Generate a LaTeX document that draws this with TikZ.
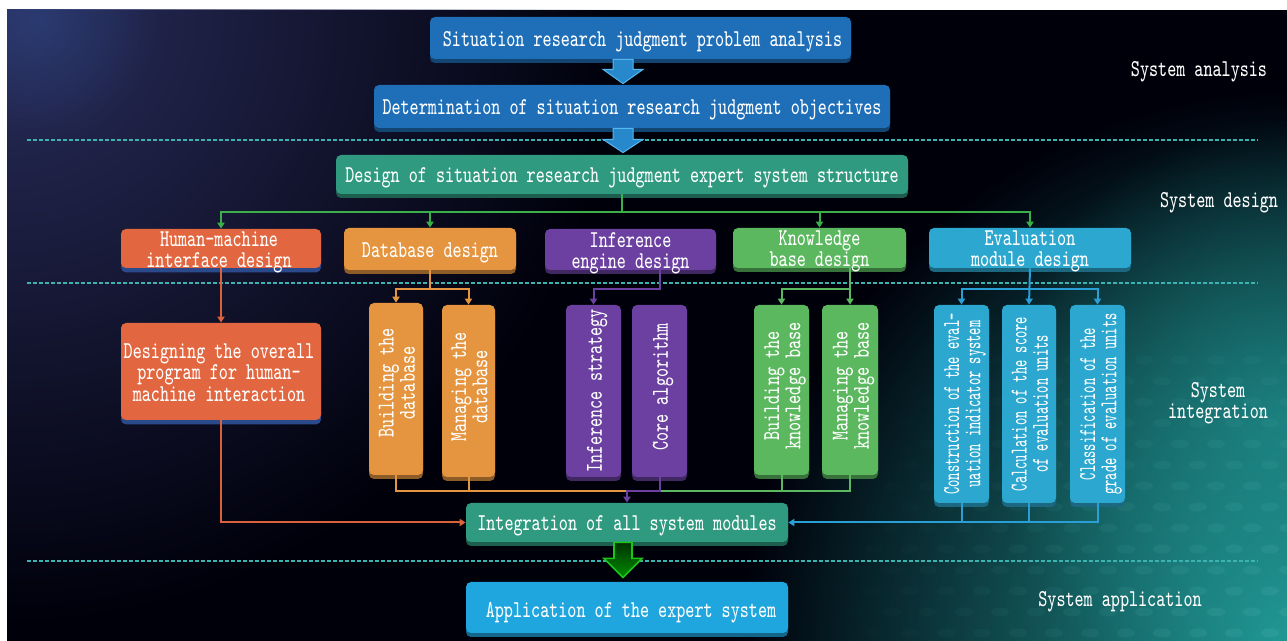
\documentclass[tikz,border=0pt]{standalone}
\usepackage{graphicx}
\usetikzlibrary{fit,calc,arrows.meta,shadows,fadings}
\definecolor{cblue}{HTML}{1F6FB8}
\definecolor{cteal}{HTML}{2F9A7F}
\definecolor{chm}{HTML}{E2663F}
\definecolor{cdb}{HTML}{E5953F}
\definecolor{cif}{HTML}{6B40A0}
\definecolor{ckb}{HTML}{5BB85F}
\definecolor{cev}{HTML}{2CA7CF}
\definecolor{capp}{HTML}{1FA6DE}
\definecolor{cnavy}{HTML}{2B4A8C}
\definecolor{cgl}{HTML}{3BAF4A}
\definecolor{chmc}{HTML}{D9613C}
\definecolor{cevc}{HTML}{2A9FD6}
\definecolor{cdash}{HTML}{3DB3B0}
\definecolor{bgnavy}{HTML}{2A2E5C}
\definecolor{bgblue}{HTML}{2E4C8E}
\definecolor{bgteal}{HTML}{229C98}
\definecolor{dotc}{HTML}{6FD0C8}
\definecolor{arrfill}{HTML}{2788CC}
\definecolor{arrline}{HTML}{56B8EE}
\tikzfading[name=radfade, inner color=transparent!0, outer color=transparent!100]
\newcommand\mytx[2][1]{\scalebox{#1}[1.4]{\begin{tabular}{@{}c@{}}#2\end{tabular}}}
\newcommand\myrtx[2][1]{\rotatebox{90}{\mytx[#1]{#2}}}
\begin{document}
\begin{tikzpicture}[x=0.5pt,y=-0.5pt,
  every node/.style={font=\ttfamily\fontsize{8.64}{7.6}\selectfont, text=white},
  bx/.style={rounded corners=2.5pt, fill=#1, inner sep=0pt,
    drop shadow={shadow xshift=0pt, shadow yshift=-2pt, fill=#1!62!black, opacity=1, rounded corners=2.5pt}},
  hbx/.style={rounded corners=2.5pt, fill=chm, inner sep=0pt,
    drop shadow={shadow xshift=0pt, shadow yshift=-2.2pt, fill=cnavy, opacity=1, rounded corners=2.5pt}},
  tx/.style={inner sep=0pt, yshift=-2pt},
  rtx/.style={inner sep=0pt, xshift=2pt},
  ln/.style={line width=1pt, draw=#1},
  ar/.style={-{Triangle[length=3pt,width=3.6pt]}},
  sep/.style={draw=cdash, line width=1pt, dash pattern=on 2pt off 1pt},
  lbl/.style={inner sep=0pt}]
\useasboundingbox (0,0) rectangle (1287,641);
\fill[white] (0,0) rectangle (1287,641);
% background
\begin{scope}
\clip (7,10) rectangle (1287,641);
\fill[black!96!blue] (7,10) rectangle (1287,641);
\fill[bgnavy, path fading=radfade] (7,10) circle (620);
\fill[bgblue, path fading=radfade, opacity=0.45] (40,20) circle (120);
\fill[bgteal, path fading=radfade] (1300,650) circle (560);
\fill[bgteal, path fading=radfade, opacity=0.6] (1290,420) circle (300);
\foreach \r in {0,...,13} {
  \foreach \c in {0,...,13} {
    \pgfmathsetmacro\xx{820+\c*36+mod(\r,2)*18}
    \pgfmathsetmacro\yy{360+\r*21}
    \pgfmathsetmacro\dd{sqrt(((\xx-1287)/100)^2+((\yy-641)/100)^2)}
    \pgfmathsetmacro\op{max(0,0.13*(1-\dd/4.6))}
    \fill[dotc, opacity=\op] (\xx,\yy) ellipse (9 and 4.5);
  }
}
\end{scope}
% separators
\draw[sep] (27,140) -- (1258,140);
\draw[sep] (27,283) -- (1258,283);
\draw[sep] (27,561) -- (1258,561);
% boxes
\node[bx=cblue, fit={(430,17) (851,59)}] (b1) {};
\node[bx=cblue, fit={(374,85) (890,128)}] (b2) {};
\node[bx=cteal, fit={(336,155) (908,194)}] (b3) {};
\node[hbx, fit={(121,229) (321,268)}] (hmi) {};
\node[bx=cdb, fit={(344,228) (516,270)}] (db) {};
\node[bx=cif, fit={(545,229) (716,270)}] (inf) {};
\node[bx=ckb, fit={(733,228) (906,268)}] (kb) {};
\node[bx=cev, fit={(929,228) (1131,268)}] (ev) {};
\node[hbx, fit={(121,323) (321,420)}] (hmi2) {};
\node[bx=cdb, fit={(369,303) (423,475)}] (bdb) {};
\node[bx=cdb, fit={(442,305) (495,477)}] (mdb) {};
\node[bx=cif, fit={(566,305) (621,477)}] (istr) {};
\node[bx=cif, fit={(632,305) (687,477)}] (core) {};
\node[bx=ckb, fit={(754,305) (809,475)}] (bkb) {};
\node[bx=ckb, fit={(822,305) (878,475)}] (mkb) {};
\node[bx=cev, fit={(934,305) (989,503)}] (con) {};
\node[bx=cev, fit={(1002,305) (1056,503)}] (cal) {};
\node[bx=cev, fit={(1070,305) (1125,503)}] (cls) {};
\node[bx=cteal, fit={(466,503) (788,542)}] (integ) {};
\node[bx=capp, fit={(466,582) (788,633)}] (app) {};
% box texts
\node[tx] (b1t) at ([xshift=1pt]b1.center) {\mytx{Situation research judgment problem analysis}};
\node[tx] (b2t) at (b2.center) {\mytx{Determination of situation research judgment objectives}};
\node[tx] (b3t) at (b3.center) {\mytx{Design of situation research judgment expert system structure}};
\node[tx] (hmit) at ([xshift=-1pt]hmi.center) {\mytx{Human-machine\\interface design}};
\node[tx] (dbt) at (db.center) {\mytx{Database design}};
\node[tx] (inft) at (inf.center) {\mytx{Inference\\engine design}};
\node[tx] (kbt) at (kb.center) {\mytx{Knowledge\\base design}};
\node[tx] (evt) at (ev.center) {\mytx{Evaluation\\module design}};
\node[tx] (hmi2t) at ([xshift=-1pt]hmi2.center) {\mytx{Designing the overall\\program for human-\\machine interaction}};
\node[rtx] (bdbt) at ([yshift=3pt]bdb.center) {\myrtx{Building the\\database}};
\node[rtx] (mdbt) at ([yshift=2pt]mdb.center) {\myrtx{Managing the\\database}};
\node[rtx] (istrt) at (istr.center) {\myrtx{Inference strategy}};
\node[rtx] (coret) at ([yshift=2pt]core.center) {\myrtx{Core algorithm}};
\node[rtx] (bkbt) at ([yshift=2pt]bkb.center) {\myrtx{Building the\\knowledge base}};
\node[rtx] (mkbt) at ([yshift=2pt]mkb.center) {\myrtx{Managing the\\knowledge base}};
\node[rtx] (cont) at (con.center) {\myrtx[0.8]{Construction of the eval-\\uation indicator system}};
\node[rtx] (calt) at (cal.center) {\myrtx[0.8]{Calculation of the score\\of evaluation units}};
\node[rtx] (clst) at (cls.center) {\myrtx[0.8]{Classification of the\\grade of evaluation units}};
\node[tx] (integt) at (integ.center) {\mytx{Integration of all system modules}};
\node[tx] (appt) at ([xshift=2pt,yshift=-1pt]app.center) {\mytx{Application of the expert system}};
% side labels
\node[lbl] (l1) at (1199,72) {\mytx{System analysis}};
\node[lbl] (l2) at (1219,203) {\mytx{System design}};
\node[lbl] (l3) at (1218,404) {\mytx{System\\integration}};
\node[lbl] (l4) at (1120,602) {\mytx{System application}};
% block arrows
\coordinate (ax) at (623,0);
\coordinate (a1) at (b1.south -| ax);
\coordinate (a2) at (b2.south -| ax);
\coordinate (a3) at (integ.south -| ax);
\draw[fill=arrfill, draw=arrline, line width=0.5pt]
  ($(a1)+(-10,0)$) -- ($(a1)+(-10,10)$) -- ($(a1)+(-20,10)$) -- ($(b2.north -| ax)+(0,-1)$)
  -- ($(a1)+(20,10)$) -- ($(a1)+(10,10)$) -- ($(a1)+(10,0)$) -- cycle;
\draw[fill=arrfill, draw=arrline, line width=0.5pt]
  ($(a2)+(-10,0)$) -- ($(a2)+(-10,11)$) -- ($(a2)+(-20,11)$) -- ($(b3.north -| ax)+(0,-2)$)
  -- ($(a2)+(20,11)$) -- ($(a2)+(10,11)$) -- ($(a2)+(10,0)$) -- cycle;
\draw[top color=black!80!green, bottom color=green!55!black, draw=green!75!black!90!white, line width=0.8pt]
  ($(a3)+(-9,0)$) -- ($(a3)+(-9,16)$) -- ($(a3)+(-19,16)$) -- ($(app.north -| ax)+(0,-4)$)
  -- ($(a3)+(19,16)$) -- ($(a3)+(9,16)$) -- ($(a3)+(9,0)$) -- cycle;
% bus levels
\coordinate (r2) at (0,212);
\coordinate (r3) at (0,289);
\coordinate (r4) at (0,491);
% design level connectors
\draw[ln=cgl] (b3.south) -- (b3.south |- r2);
\draw[ln=cgl, ar] (b3.south |- r2) -| (hmi.north);
\draw[ln=cgl, ar] (b3.south |- r2) -| (db.north);
\draw[ln=cgl, ar] (b3.south |- r2) -| (kb.north);
\draw[ln=cgl, ar] (b3.south |- r2) -| (ev.north);
% integration level connectors
\draw[ln=chmc, ar] (hmi.south) -- (hmi2.north);
\draw[ln=cdb] (db.south) -- (db.south |- r3);
\draw[ln=cdb, ar] (db.south |- r3) -| (bdb.north);
\draw[ln=cdb, ar] (db.south |- r3) -| (mdb.north);
\draw[ln=cif, ar] (inf.south -| core.north) |- (istr.north |- r3) -- (istr.north);
\draw[ln=ckb, ar] (kb.south -| mkb.north) -- (mkb.north);
\draw[ln=ckb, ar] (mkb.north |- r3) -| (bkb.north);
\draw[ln=cevc, ar] (ev.south) -- (cal.north);
\draw[ln=cevc, ar] (ev.south |- r3) -| (con.north);
\draw[ln=cevc, ar] (ev.south |- r3) -| (cls.north);
% into integration
\draw[ln=cdb] (bdb.south) |- (integ.north |- r4);
\draw[ln=cdb] (mdb.south) -- (mdb.south |- r4);
\draw[ln=ckb] (mkb.south) |- (core.south |- r4);
\draw[ln=ckb] (bkb.south) -- (bkb.south |- r4);
\draw[ln=cif, ar] (core.south) |- (integ.north |- r4) -- (integ.north);
\draw[ln=chmc, ar] (hmi2.south) |- (integ.west);
\draw[ln=cevc, ar] (cls.south) |- (integ.east);
\draw[ln=cevc] (con.south) -- (con.south |- integ.east);
\draw[ln=cevc] (cal.south) -- (cal.south |- integ.east);
\end{tikzpicture}
\end{document}
